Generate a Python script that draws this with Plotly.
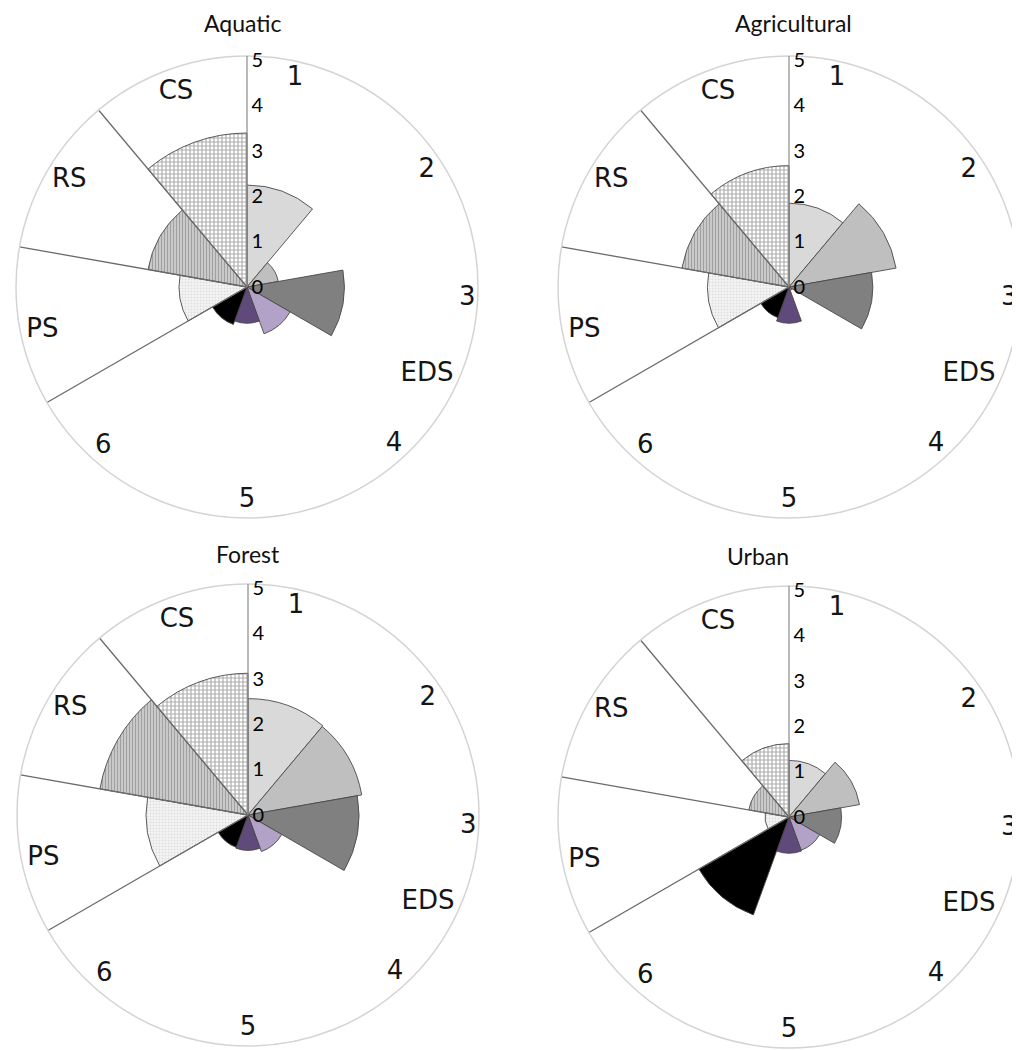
import plotly.graph_objects as go

# ---------------- data ----------------
categories = ["1", "2", "3", "4", "5", "6", "PS", "RS", "CS"]
groups = ["EDS", "EDS", "EDS", "EDS", "EDS", "EDS", "PS", "RS", "CS"]
panel_titles = ["Aquatic", "Agricultural", "Forest", "Urban"]

aquatic = [2.25, 0.70, 2.15, 1.10, 0.80, 0.88, 1.50, 2.22, 3.40]
agricultural = [1.85, 2.40, 1.85, 0.08, 0.80, 0.72, 1.80, 2.40, 2.68]
forest = [2.57, 2.55, 2.45, 0.86, 0.78, 0.76, 2.25, 3.32, 3.13]
urban = [1.25, 1.58, 1.16, 0.78, 0.80, 2.30, 0.53, 0.90, 1.62]

radial_ticks = [0, 1, 2, 3, 4, 5]
panel_values = [aquatic, agricultural, forest, urban]

# ---------------- styling ----------------
W, H = 1020, 1050
OFF = 8  # page body margin offset
R_PX = 231
RMAX = 5.1
centers = [(247, 287), (789, 287), (248, 815), (789, 817)]
title_pos = [(242, 23), (793, 23), (248, 554), (758, 556)]

fill_colors = ["#d9d9d9", "#bfbfbf", "#808080", "#b3a2c7", "#604a7b", "#000000",
               "#f4f4f4", "#d0d0d0", "#ffffff"]
patterns = [None, None, None, None, None, None,
            dict(shape=".", bgcolor="#f5f5f5", fgcolor="#c4c4c4", size=3, solidity=0.3),
            dict(shape="|", bgcolor="#cdcdcd", fgcolor="#737373", size=3, solidity=0.4),
            dict(shape="+", bgcolor="#ffffff", fgcolor="#5a5a5a", size=4, solidity=0.5)]

# label placement (angle, radius) around the circle
label_texts = categories[:3] + ["EDS"] + categories[3:]
label_theta = [13, 57, 93, 116, 137, 180, 222, 258, 301, 340]
label_r = [4.72, 4.73, 4.87, 4.42, 4.76, 4.71, 4.74, 4.62, 4.58, 4.58]

n = len(categories)
step = 360.0 / n
thetas = [step * i + step / 2 for i in range(n)]
boundaries = [step * i for i in range(1, n) if groups[i] != groups[i - 1]]

fig = go.Figure()

for p, vals in enumerate(panel_values):
    sub = "polar" if p == 0 else f"polar{p + 1}"
    for b in boundaries:
        fig.add_trace(go.Scatterpolar(
            r=[0, RMAX], theta=[b, b], mode="lines",
            line=dict(color="#6a6a6a", width=1.3),
            showlegend=False, hoverinfo="skip", subplot=sub))
    for i in range(n):
        marker = dict(color=fill_colors[i], line=dict(color="#4a4a4a", width=0.9))
        if patterns[i] is not None:
            marker["pattern"] = patterns[i]
        fig.add_trace(go.Barpolar(
            r=[vals[i]], theta=[thetas[i]], width=[step],
            marker=marker, name=categories[i],
            showlegend=False, subplot=sub))
    fig.add_trace(go.Scatterpolar(
        r=label_r, theta=label_theta, mode="text", text=label_texts,
        textfont=dict(family="DejaVu Sans", size=26, color="#151515"),
        textposition="middle center",
        showlegend=False, hoverinfo="skip", subplot=sub))

layout = dict(
    width=W, height=H,
    margin=dict(l=0, r=0, t=0, b=0),
    paper_bgcolor="white",
    showlegend=False,
    annotations=[],
)

for p, (cx, cy) in enumerate(centers):
    key = "polar" if p == 0 else f"polar{p + 1}"
    cx -= OFF
    cy -= OFF
    x0 = max(0.0, (cx - R_PX) / W)
    x1 = min(1.0, (cx + R_PX) / W)
    y0 = max(0.0, 1 - (cy + R_PX) / H)
    y1 = min(1.0, 1 - (cy - R_PX) / H)
    layout[key] = dict(
        domain=dict(x=[x0, x1], y=[y0, y1]),
        bgcolor="white",
        barmode="overlay",
        angularaxis=dict(direction="clockwise", rotation=90,
                         showgrid=False, showticklabels=False, ticks="",
                         showline=True, linecolor="#d4d4d4", linewidth=1.5),
        radialaxis=dict(range=[0, RMAX], angle=90, tickangle=90,
                        tickvals=radial_ticks, ticktext=[str(t) for t in radial_ticks],
                        showgrid=False, ticks="", showline=True,
                        linecolor="#8a8a8a", linewidth=1.2, side="clockwise",
                        tickfont=dict(family="Lato", size=20, color="#000000")),
    )
    tx, ty = title_pos[p]
    layout["annotations"].append(dict(
        text=panel_titles[p], x=(tx - OFF) / W, y=1 - (ty - OFF) / H,
        xref="paper", yref="paper",
        showarrow=False, xanchor="center", yanchor="middle",
        font=dict(family="Lato", size=23, color="#111111")))

fig.update_layout(**layout)
fig.write_html("out.html")
